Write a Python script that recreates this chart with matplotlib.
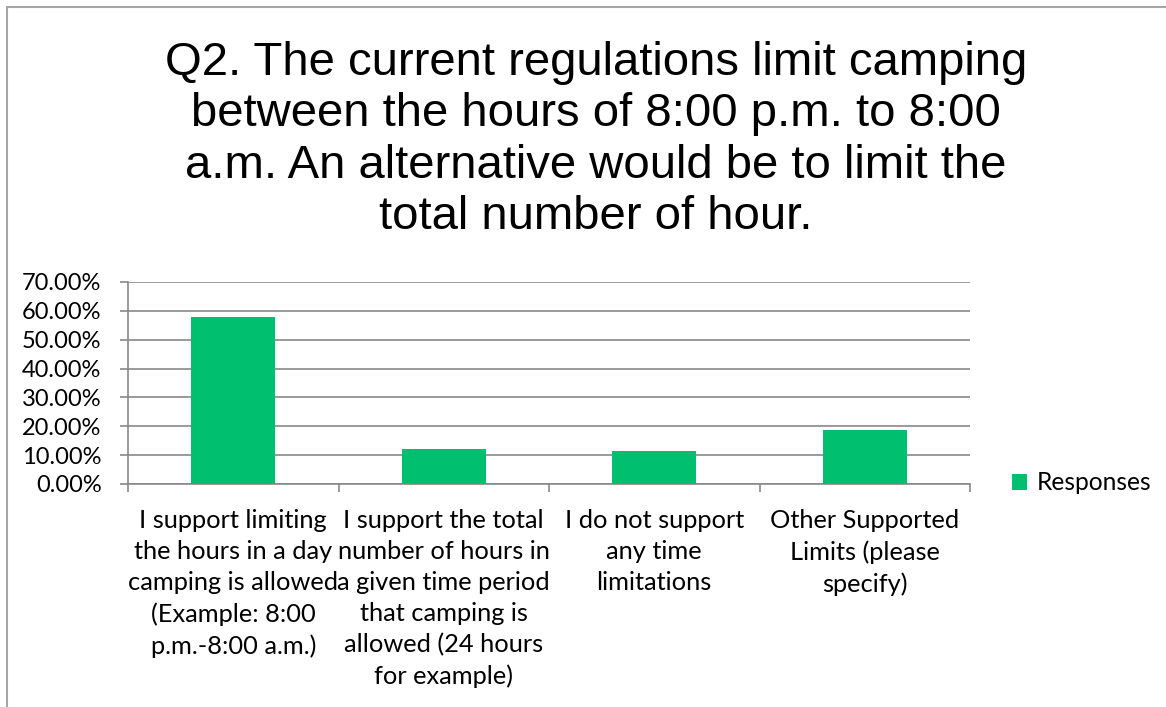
import matplotlib
matplotlib.use("Agg")
import matplotlib.pyplot as plt
from matplotlib.patches import Rectangle
from matplotlib.ticker import FixedLocator, PercentFormatter

# survey data
categories = [
    "I support limiting\nthe hours in a day\ncamping is allowed\n(Example: 8:00\np.m.-8:00 a.m.)",
    "I support the total\nnumber of hours in\na given time period\nthat camping is\nallowed (24 hours\nfor example)",
    "I do not support\nany time\nlimitations",
    "Other Supported\nLimits (please\nspecify)",
]
responses = [57.8, 12.1, 11.4, 18.6]
series_name = "Responses"
title = ("Q2. The current regulations limit camping\n"
         "between the hours of 8:00 p.m. to 8:00\n"
         "a.m. An alternative would be to limit the\n"
         "total number of hour.")

GREEN = "#00BF6F"
GRID = "#898989"
LABEL_FONT = ["Lato", "DejaVu Sans"]

fig = plt.figure(figsize=(11.66, 7.07), dpi=100)
fig.patch.set_facecolor("white")

# outer chart border (only top and left edges visible)
fig.patches.append(Rectangle((7 / 1166, -0.1), 1.2, 1 - 7 / 707 + 0.1,
                             transform=fig.transFigure, fill=False,
                             edgecolor="#A6A6A6", linewidth=1.5))

ax = fig.add_axes([128 / 1166, 1 - 484 / 707, (970 - 128) / 1166, (484 - 282) / 707])

x = list(range(len(categories)))
bars = ax.bar(x, responses, width=0.4, color=GREEN, label=series_name, zorder=3)

ax.set_xlim(-0.5, len(categories) - 0.5)
ax.set_ylim(0, 70)
ax.set_yticks(range(0, 71, 10))
ax.yaxis.set_major_formatter(PercentFormatter(decimals=2))
ax.yaxis.grid(True, color=GRID, linewidth=1.2, zorder=0)

ax.set_xticks(x)
ax.set_xticklabels(categories, fontsize=18.3, family=LABEL_FONT, linespacing=1.42)
ax.xaxis.set_minor_locator(FixedLocator([i - 0.5 for i in range(len(categories) + 1)]))
ax.tick_params(axis="x", which="major", length=0, pad=18)
ax.tick_params(axis="x", which="minor", length=6, color=GRID, width=1.2)
ax.tick_params(axis="y", length=6, color=GRID, width=1.2, pad=13)
for lab in ax.get_yticklabels():
    lab.set_fontsize(17)
    lab.set_family(LABEL_FONT)

for side in ["top", "right"]:
    ax.spines[side].set_visible(False)
for side in ["left", "bottom"]:
    ax.spines[side].set_color(GRID)
    ax.spines[side].set_linewidth(1.2)

fig.text(596 / 1166, 1 - 140 / 707, title, ha="center", va="center",
         fontsize=34, family=["Liberation Sans", "DejaVu Sans"], linespacing=1.21)

fig.legend(handles=[bars], labels=[series_name], loc="center left",
           bbox_to_anchor=(1012 / 1166, 1 - 483 / 707), frameon=False,
           borderpad=0, borderaxespad=0,
           handlelength=0.6, handleheight=0.6, handletextpad=0.4,
           prop={"family": LABEL_FONT, "size": 17.7})

fig.savefig("out.png", dpi=100, facecolor="white")
